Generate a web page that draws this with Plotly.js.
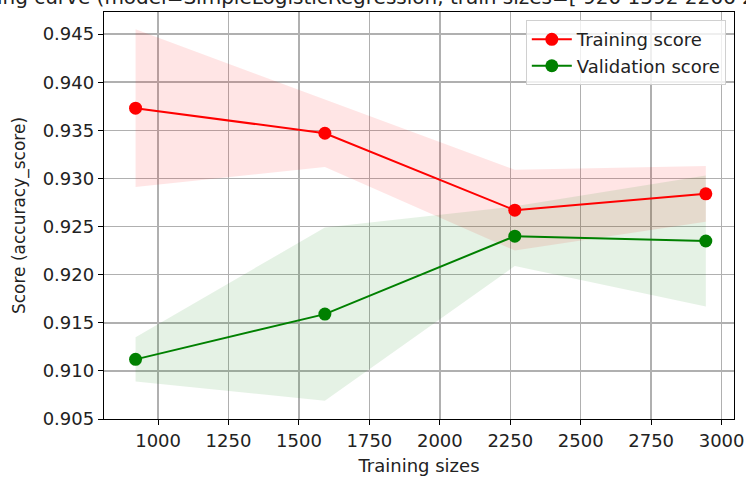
<!DOCTYPE html>
<html>
<head>
<meta charset="utf-8">
<script src="https://cdn.plot.ly/plotly-3.0.1.min.js"></script>
<style>html,body{margin:0;padding:0;background:#fff;}#chart{width:746px;height:480px;}</style>
</head>
<body>
<div id="chart"></div>
<script>
const trainSizes = [920, 1592, 2266, 2944];
const trainMean = [0.9373, 0.9347, 0.9267, 0.9284];
const trainStd = [0.0082, 0.0035, 0.0042, 0.0029];
const valMean = [0.9112, 0.9159, 0.9240, 0.9235];
const valStd = [0.0023, 0.0090, 0.0031, 0.0068];
const xTicks = [1000, 1250, 1500, 1750, 2000, 2250, 2500, 2750, 3000];
const yTicks = [0.905, 0.910, 0.915, 0.920, 0.925, 0.930, 0.935, 0.940, 0.945];
const chartTitle = 'Learning curve (model=SimpleLogisticRegression, train sizes=[ 920 1592 2266 2944])';

function band(mean, std, color) {
  const up = mean.map((m, i) => m + std[i]);
  const lo = mean.map((m, i) => m - std[i]);
  return {
    x: trainSizes.concat(trainSizes.slice().reverse()),
    y: up.concat(lo.slice().reverse()),
    fill: 'toself', fillcolor: color, mode: 'lines',
    line: {width: 0, color: 'rgba(0,0,0,0)'},
    showlegend: false, hoverinfo: 'skip', type: 'scatter'
  };
}

const traces = [
  band(trainMean, trainStd, 'rgba(255,0,0,0.1)'),
  band(valMean, valStd, 'rgba(0,128,0,0.1)'),
  {x: trainSizes, y: trainMean, mode: 'lines+markers', name: 'Training score',
   line: {color: '#ff0000', width: 2}, marker: {color: '#ff0000', size: 13}, type: 'scatter'},
  {x: trainSizes, y: valMean, mode: 'lines+markers', name: 'Validation score',
   line: {color: '#008000', width: 2}, marker: {color: '#008000', size: 13}, type: 'scatter'}
];

const font = {family: 'DejaVu Sans', size: 18, color: '#222'};
const tickFont = {family: 'DejaVu Sans', size: 18, color: '#222'};
const layout = {
  width: 746, height: 480,
  margin: {l: 104, r: 12, t: 12, b: 61},
  paper_bgcolor: '#fff', plot_bgcolor: '#fff',
  font: font,
  annotations: [{text: chartTitle, xref: 'paper', yref: 'paper', x: 0.43, y: 1.038,
                 xanchor: 'center', yanchor: 'middle', showarrow: false,
                 font: {family: 'DejaVu Sans', size: 20, color: '#222'}}],
  xaxis: {range: [808, 3044], tickvals: xTicks, ticktext: xTicks.map(String),
          showgrid: true, gridcolor: '#b0b0b0', gridwidth: 1.5, zeroline: false,
          showline: true, mirror: true, linecolor: '#000', linewidth: 1.2,
          ticks: 'outside', ticklen: 5, tickcolor: '#000', tickfont: tickFont,
          title: {text: 'Training sizes', font: font, standoff: 9}},
  yaxis: {range: [0.905, 0.9473], tickvals: yTicks, ticktext: yTicks.map(v => v.toFixed(3)),
          showgrid: true, gridcolor: '#b0b0b0', gridwidth: 1.5, zeroline: false,
          showline: true, mirror: true, linecolor: '#000', linewidth: 1.2,
          ticks: 'outside', ticklen: 5, tickcolor: '#000', tickfont: tickFont,
          title: {text: 'Score (accuracy_score)', font: {family: 'DejaVu Sans', size: 17, color: '#222'}, standoff: 12}},
  legend: {x: 0.987, xanchor: 'right', y: 0.98, yanchor: 'top',
           bgcolor: 'rgba(255,255,255,0.8)', bordercolor: '#d0d0d0', borderwidth: 1,
           font: font, tracegroupgap: 0, itemwidth: 40},
  showlegend: true
};

Plotly.newPlot('chart', traces, layout, {displayModeBar: false, staticPlot: true});
</script>
</body>
</html>
